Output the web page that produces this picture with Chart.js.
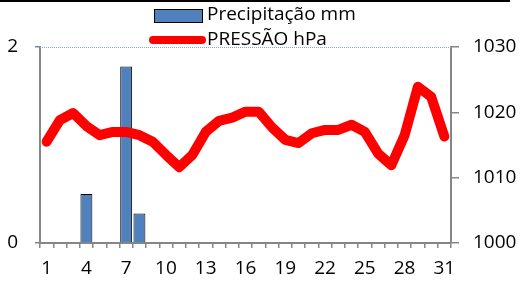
<!DOCTYPE html>
<html>
<head>
<meta charset="utf-8">
<script src="https://cdn.jsdelivr.net/npm/chart.js@4/dist/chart.umd.min.js"></script>
<style>
  html, body { margin: 0; padding: 0; background: #fff; }
  #wrap { width: 522px; height: 288px; position: relative; }
</style>
</head>
<body>
<div id="wrap"><canvas id="c" width="522" height="288"></canvas></div>
<script>
const days = Array.from({ length: 31 }, (_, i) => String(i + 1));
const precip = [0, 0, 0, 0.5, 0, 0, 1.8, 0.3, 0, 0, 0, 0, 0, 0, 0, 0, 0, 0, 0, 0, 0, 0, 0, 0, 0, 0, 0, 0, 0, 0, 0];
const pressure = [1015.5, 1018.8, 1019.9, 1017.9, 1016.5, 1017.0, 1017.0, 1016.5, 1015.5, 1013.5,
    1011.6, 1013.5, 1017.0, 1018.7, 1019.2, 1020.1, 1020.1, 1017.7, 1015.8, 1015.3,
    1016.8, 1017.3, 1017.3, 1018.1, 1017.0, 1013.7, 1011.9, 1016.5, 1023.9, 1022.4, 1016.3];
const precipLabel = "Precipitação mm";
const pressureLabel = "PRESSÃO hPa";

const FONT = "'Open Sans', sans-serif";
const FSIZE = 19;
const AXIS_GREY = "#868686";

// legend, top dotted line and the black frame edge
const decor = {
    id: "decor",
    afterDraw(chart) {
        const ctx = chart.ctx;
        const a = chart.chartArea;
        ctx.save();
        ctx.fillStyle = "#000";
        ctx.fillRect(0, 0, 510, 2);
        // dotted line along top of plot
        ctx.strokeStyle = "#7fa7d4";
        ctx.lineWidth = 1;
        ctx.setLineDash([1, 1]);
        ctx.beginPath();
        ctx.moveTo(a.left, a.top + 0.5);
        ctx.lineTo(a.right, a.top + 0.5);
        ctx.stroke();
        ctx.setLineDash([]);
        // legend
        ctx.fillStyle = "#4F81BD";
        ctx.fillRect(154, 10, 48, 12);
        ctx.strokeStyle = "#000";
        ctx.lineWidth = 1;
        ctx.strokeRect(154.5, 9.5, 48, 13);
        ctx.strokeStyle = "#ff0000";
        ctx.lineWidth = 8;
        ctx.lineCap = "round";
        ctx.beginPath();
        ctx.moveTo(153, 40);
        ctx.lineTo(202, 40);
        ctx.stroke();
        ctx.fillStyle = "#000";
        ctx.font = FSIZE + "px " + FONT;
        ctx.textBaseline = "middle";
        ctx.fillText(precipLabel, 207, 15);
        ctx.fillText(pressureLabel, 207, 40);
        ctx.restore();
    },
};

new Chart(document.getElementById("c"), {
    data: {
        labels: days,
        datasets: [
            {
                type: "line",
                label: pressureLabel,
                data: pressure,
                yAxisID: "y2",
                borderColor: "#ff0000",
                borderWidth: 10,
                borderJoinStyle: "round",
                borderCapStyle: "round",
                pointRadius: 0,
                tension: 0,
                order: 0,
            },
            {
                type: "bar",
                label: precipLabel,
                data: precip,
                yAxisID: "y",
                backgroundColor: "#4F81BD",
                borderColor: "#000",
                borderWidth: (c) => (c.raw > 0 ? 1 : 0),
                borderSkipped: "bottom",
                barPercentage: 0.9,
                categoryPercentage: 1.0,
                order: 1,
            },
        ],
    },
    options: {
        responsive: false,
        animation: false,
        layout: { padding: { top: 47, left: 0, right: 0, bottom: 0 } },
        plugins: { legend: { display: false }, tooltip: { enabled: false } },
        scales: {
            x: {
                grid: { offset: true, drawOnChartArea: false, color: AXIS_GREY, tickLength: 5, lineWidth: 1.5 },
                border: { color: AXIS_GREY, width: 2 },
                ticks: {
                    autoSkip: false,
                    maxRotation: 0,
                    padding: 9,
                    color: "#000",
                    font: { family: FONT, size: FSIZE },
                    callback: (v, i) => (i % 3 === 0 ? days[i] : ""),
                },
                afterFit: (s) => { s.height = 45; },
            },
            y: {
                position: "left",
                min: 0,
                max: 2,
                grid: { drawOnChartArea: false, color: AXIS_GREY, tickLength: 5, lineWidth: 1.5 },
                border: { color: AXIS_GREY, width: 2 },
                ticks: {
                    stepSize: 2,
                    padding: 17,
                    color: "#000",
                    font: { family: FONT, size: FSIZE },
                },
                afterFit: (s) => { s.width = 40; },
            },
            y2: {
                position: "right",
                min: 1000,
                max: 1030,
                grid: { drawOnChartArea: false, color: AXIS_GREY, tickLength: 8, lineWidth: 1.5 },
                border: { color: AXIS_GREY, width: 2 },
                ticks: {
                    stepSize: 10,
                    padding: 14,
                    color: "#000",
                    font: { family: FONT, size: FSIZE },
                    callback: (v) => String(v),
                },
                afterFit: (s) => { s.width = 71; },
            },
        },
    },
    plugins: [decor],
});
</script>
</body>
</html>
